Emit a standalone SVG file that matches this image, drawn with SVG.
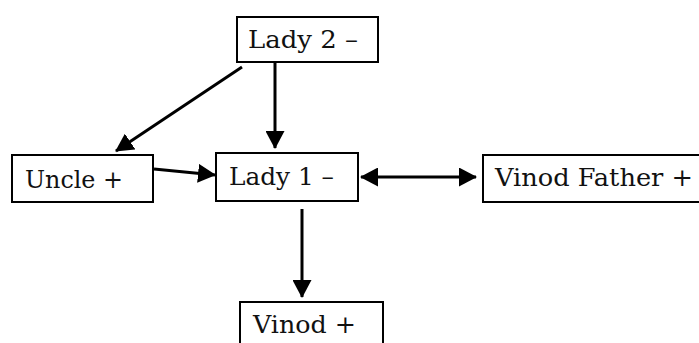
<svg xmlns="http://www.w3.org/2000/svg" width="699" height="343" viewBox="0 0 699 343">
<style>
.box{fill:#fff;stroke:#000;stroke-width:2}
.lbl{font-family:"DejaVu Serif","Liberation Serif",serif;font-size:25px;fill:#111}
.edge{stroke:#000;stroke-width:3;fill:none}
</style>
<defs>
<marker id="ah" markerUnits="userSpaceOnUse" viewBox="0 0 18 19" refX="17" refY="9.5" markerWidth="18" markerHeight="19" orient="auto-start-reverse">
<path d="M0,0 L18,9.5 L0,19 z" fill="#000"/>
</marker>
</defs>
<rect width="699" height="343" fill="#fff"/>
<g id="connectors">
<line class="edge" x1="242" y1="67" x2="116" y2="151" marker-end="url(#ah)"/>
<line class="edge" x1="275" y1="62" x2="275" y2="148" marker-end="url(#ah)"/>
<line class="edge" x1="154" y1="169" x2="215" y2="175" marker-end="url(#ah)"/>
<line class="edge" x1="361" y1="177" x2="476" y2="177" marker-start="url(#ah)" marker-end="url(#ah)"/>
<line class="edge" x1="302" y1="209" x2="302" y2="297" marker-end="url(#ah)"/>
</g>
<g id="lady2">
<rect class="box" x="237" y="17" width="141" height="45"/>
<text class="lbl" x="248" y="48" textLength="110" lengthAdjust="spacingAndGlyphs">Lady 2 –</text>
</g>
<g id="uncle">
<rect class="box" x="12" y="155" width="141" height="47"/>
<text class="lbl" x="25" y="188" textLength="98" lengthAdjust="spacingAndGlyphs">Uncle +</text>
</g>
<g id="lady1">
<rect class="box" x="216" y="153" width="142" height="48"/>
<text class="lbl" x="229" y="185" textLength="105" lengthAdjust="spacingAndGlyphs">Lady 1 –</text>
</g>
<g id="vinodfather">
<rect class="box" x="483" y="155" width="230" height="47"/>
<text class="lbl" x="495" y="186" textLength="198" lengthAdjust="spacingAndGlyphs">Vinod Father +</text>
</g>
<g id="vinod">
<rect class="box" x="240" y="302" width="143" height="60"/>
<text class="lbl" x="253" y="333" textLength="103" lengthAdjust="spacingAndGlyphs">Vinod +</text>
</g>
</svg>
